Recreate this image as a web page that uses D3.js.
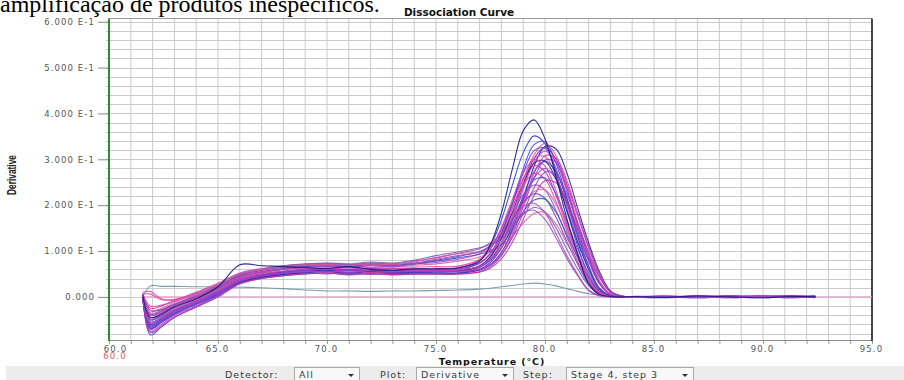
<!DOCTYPE html>
<html>
<head>
<meta charset="utf-8">
<script src="https://cdn.jsdelivr.net/npm/d3@7"></script>
<style>
  html, body { margin: 0; padding: 0; background: #fff; }
  svg { display: block; }
</style>
</head>
<body>
<svg id="chart" width="904" height="380"></svg>
<script>
// Temperature points (°C) at which every well's derivative is sampled
const temperatures = [61.55, 61.9, 62.4, 63, 64, 65, 66, 67, 68, 69, 70, 71, 72, 73, 74,
  75, 76, 77, 77.5, 78, 78.5, 79, 79.5, 80, 80.5, 81, 81.5, 82, 82.5, 83, 83.5, 84,
  85.5, 87, 88.5, 90, 91.2, 92.4];

// Derivative (-dF/dT) per well
const wellA1 = [0.0, 0.024, 0.023, 0.023, 0.022, 0.022, 0.021, 0.020, 0.018, 0.015, 0.013, 0.013, 0.012, 0.013, 0.013,
  0.014, 0.015, 0.017, 0.019, 0.022, 0.025, 0.028, 0.030, 0.028, 0.024, 0.018, 0.012, 0.007, 0.004, 0.002, 0.001, 0.000,
  0.0, 0.001, -0.001, 0.0, 0.001, 0.0];
const wellA2 = [0.0, -0.062, -0.05, -0.032, -0.012, 0.01, 0.036, 0.047, 0.052, 0.056, 0.058, 0.054, 0.057, 0.055, 0.053,
  0.056, 0.057, 0.078, 0.111, 0.168, 0.243, 0.314, 0.351, 0.334, 0.272, 0.188, 0.111, 0.046, 0.010, 0.001, 0.000, -0.001,
  0.001, -0.002, 0.002, 0.0, -0.001, 0.001];
const wellA3 = [-0.003, -0.083, -0.066, -0.045, -0.022, 0.002, 0.03, 0.04, 0.046, 0.05, 0.052, 0.049, 0.051, 0.048, 0.05,
  0.050, 0.051, 0.065, 0.089, 0.136, 0.204, 0.279, 0.332, 0.338, 0.292, 0.216, 0.136, 0.068, 0.019, 0.003, 0.000, 0.001,
  0.0, 0.002, -0.001, 0.001, 0.002, -0.001];
const wellA4 = [0.008, -0.03, -0.028, -0.016, 0.0, 0.018, 0.04, 0.048, 0.055, 0.058, 0.057, 0.06, 0.055, 0.052, 0.054,
  0.052, 0.052, 0.058, 0.070, 0.097, 0.146, 0.214, 0.285, 0.328, 0.323, 0.271, 0.193, 0.118, 0.055, 0.013, 0.002, 0.000,
  -0.002, 0.0, 0.001, -0.001, 0.0, 0.002];
const wellA5 = [0.0, -0.055, -0.046, -0.03, -0.008, 0.014, 0.038, 0.05, 0.056, 0.06, 0.062, 0.059, 0.061, 0.057, 0.058,
  0.058, 0.059, 0.067, 0.083, 0.117, 0.172, 0.242, 0.302, 0.326, 0.301, 0.237, 0.159, 0.091, 0.033, 0.006, 0.001, 0.000,
  0.001, -0.001, 0.0, 0.002, -0.002, 0.001];
const wellA6 = [0.002, -0.07, -0.055, -0.036, -0.014, 0.008, 0.034, 0.046, 0.054, 0.057, 0.055, 0.058, 0.054, 0.056, 0.055,
  0.056, 0.056, 0.064, 0.080, 0.113, 0.167, 0.235, 0.294, 0.318, 0.294, 0.231, 0.155, 0.088, 0.032, 0.006, 0.001, 0.000,
  0.0, 0.001, 0.002, -0.001, 0.001, -0.001];
const wellA7 = [0.006, -0.02, -0.018, -0.01, 0.006, 0.024, 0.046, 0.055, 0.061, 0.064, 0.062, 0.066, 0.061, 0.063, 0.06,
  0.061, 0.061, 0.073, 0.094, 0.134, 0.192, 0.256, 0.302, 0.306, 0.265, 0.196, 0.123, 0.062, 0.017, 0.003, 0.000, 0.001,
  -0.001, 0.001, -0.002, 0.001, 0.0, 0.001];
const wellA8 = [-0.002, -0.075, -0.06, -0.04, -0.02, 0.004, 0.03, 0.042, 0.048, 0.052, 0.05, 0.053, 0.049, 0.051, 0.05,
  0.050, 0.050, 0.055, 0.066, 0.090, 0.134, 0.196, 0.259, 0.298, 0.294, 0.246, 0.176, 0.107, 0.050, 0.012, 0.002, 0.000,
  0.001, 0.0, 0.002, 0.0, -0.001, 0.002];
const wellA9 = [0.0, -0.06, -0.048, -0.03, -0.01, 0.012, 0.036, 0.046, 0.052, 0.054, 0.056, 0.052, 0.055, 0.05, 0.052,
  0.052, 0.052, 0.060, 0.075, 0.106, 0.156, 0.219, 0.274, 0.296, 0.273, 0.215, 0.144, 0.082, 0.030, 0.006, 0.001, 0.000,
  -0.001, 0.002, 0.0, 0.001, 0.001, -0.002];
const wellA10 = [0.003, -0.04, -0.034, -0.02, -0.002, 0.02, 0.044, 0.054, 0.06, 0.063, 0.061, 0.064, 0.06, 0.062, 0.061,
  0.062, 0.064, 0.080, 0.105, 0.148, 0.204, 0.258, 0.286, 0.273, 0.222, 0.153, 0.090, 0.037, 0.008, 0.001, 0.000, 0.000,
  0.002, -0.001, 0.001, 0.0, 0.002, 0.0];
const wellA11 = [0.0, -0.05, -0.042, -0.028, -0.008, 0.014, 0.038, 0.05, 0.055, 0.058, 0.06, 0.057, 0.059, 0.056, 0.058,
  0.058, 0.058, 0.065, 0.079, 0.107, 0.153, 0.210, 0.260, 0.280, 0.258, 0.203, 0.136, 0.078, 0.028, 0.005, 0.001, 0.000,
  0.0, -0.002, 0.001, 0.001, -0.001, 0.0];
const wellA12 = [0.01, 0.012, -0.004, -0.006, 0.008, 0.026, 0.048, 0.058, 0.064, 0.067, 0.065, 0.068, 0.064, 0.066, 0.065,
  0.066, 0.067, 0.082, 0.105, 0.144, 0.195, 0.244, 0.269, 0.257, 0.208, 0.144, 0.085, 0.035, 0.008, 0.001, 0.000, 0.001,
  0.001, 0.0, -0.001, 0.002, 0.0, 0.001];
const wellB1 = [0.0, -0.065, -0.052, -0.034, -0.014, 0.008, 0.033, 0.044, 0.05, 0.054, 0.056, 0.053, 0.056, 0.054, 0.055,
  0.055, 0.056, 0.066, 0.083, 0.116, 0.164, 0.217, 0.255, 0.259, 0.224, 0.165, 0.104, 0.052, 0.014, 0.002, 0.000, 0.000,
  -0.001, 0.001, 0.0, -0.002, 0.001, 0.001];
const wellB2 = [-0.004, -0.078, -0.064, -0.044, -0.022, 0.0, 0.028, 0.04, 0.046, 0.05, 0.052, 0.048, 0.051, 0.049, 0.05,
  0.050, 0.050, 0.054, 0.063, 0.083, 0.119, 0.169, 0.221, 0.253, 0.249, 0.209, 0.149, 0.091, 0.042, 0.010, 0.002, 0.000,
  0.002, 0.0, 0.001, -0.001, 0.002, 0.0];
const wellB3 = [0.004, -0.035, -0.03, -0.016, 0.004, 0.026, 0.05, 0.06, 0.066, 0.068, 0.07, 0.067, 0.071, 0.069, 0.072,
  0.075, 0.082, 0.094, 0.113, 0.137, 0.181, 0.223, 0.244, 0.233, 0.189, 0.131, 0.077, 0.032, 0.007, 0.001, 0.000, 0.000,
  0.0, 0.001, -0.001, 0.001, -0.002, 0.001];
const wellB4 = [0.005, -0.03, -0.025, -0.012, 0.006, 0.026, 0.048, 0.058, 0.064, 0.066, 0.068, 0.065, 0.068, 0.066, 0.069,
  0.072, 0.078, 0.087, 0.099, 0.117, 0.157, 0.200, 0.230, 0.233, 0.202, 0.149, 0.094, 0.047, 0.013, 0.002, 0.000, 0.001,
  -0.001, 0.002, 0.0, 0.001, 0.0, -0.001];
const wellB5 = [0.002, -0.045, -0.036, -0.02, 0.0, 0.022, 0.046, 0.058, 0.066, 0.07, 0.072, 0.07, 0.073, 0.071, 0.074,
  0.080, 0.088, 0.099, 0.111, 0.131, 0.169, 0.206, 0.225, 0.215, 0.174, 0.121, 0.071, 0.029, 0.006, 0.001, 0.000, 0.000,
  0.001, -0.001, 0.002, 0.0, 0.001, 0.0];
const wellB6 = [0.0, -0.05, -0.04, -0.024, -0.004, 0.018, 0.042, 0.054, 0.062, 0.066, 0.068, 0.066, 0.07, 0.068, 0.072,
  0.078, 0.085, 0.093, 0.100, 0.113, 0.147, 0.185, 0.211, 0.213, 0.185, 0.136, 0.086, 0.043, 0.012, 0.002, 0.000, 0.000,
  0.0, 0.002, -0.001, 0.0, 0.001, 0.002];
const wellB7 = [0.004, -0.025, -0.02, -0.008, 0.01, 0.03, 0.052, 0.062, 0.068, 0.071, 0.073, 0.07, 0.074, 0.072, 0.078,
  0.085, 0.095, 0.105, 0.118, 0.137, 0.171, 0.197, 0.204, 0.183, 0.139, 0.090, 0.049, 0.015, 0.003, 0.000, 0.000, 0.001,
  -0.001, 0.0, 0.001, -0.001, 0.0, 0.001];
const wellB8 = [0.002, -0.04, -0.032, -0.018, 0.002, 0.024, 0.048, 0.06, 0.068, 0.072, 0.074, 0.072, 0.076, 0.074, 0.08,
  0.090, 0.098, 0.107, 0.115, 0.127, 0.152, 0.180, 0.195, 0.185, 0.151, 0.104, 0.061, 0.025, 0.005, 0.001, 0.000, 0.000,
  0.001, -0.001, 0.0, 0.002, 0.0, -0.001];
const wellB9 = [0.006, 0.006, -0.006, -0.006, 0.008, 0.028, 0.05, 0.06, 0.066, 0.07, 0.071, 0.069, 0.072, 0.07, 0.076,
  0.086, 0.094, 0.098, 0.102, 0.111, 0.132, 0.161, 0.182, 0.184, 0.159, 0.117, 0.074, 0.037, 0.010, 0.002, 0.000, 0.000,
  0.0, 0.001, 0.001, -0.001, 0.002, 0.0];
const wellB10 = [0.0, -0.055, -0.044, -0.028, -0.008, 0.014, 0.04, 0.052, 0.06, 0.064, 0.066, 0.064, 0.068, 0.066, 0.072,
  0.082, 0.090, 0.098, 0.111, 0.127, 0.158, 0.183, 0.189, 0.169, 0.129, 0.084, 0.046, 0.014, 0.002, 0.000, 0.000, 0.000,
  0.001, 0.0, -0.002, 0.001, 0.0, 0.001];
const wellB11 = [0.0, -0.068, -0.054, -0.036, -0.016, 0.006, 0.032, 0.043, 0.049, 0.053, 0.055, 0.052, 0.056, 0.053, 0.055,
  0.055, 0.056, 0.068, 0.088, 0.127, 0.184, 0.247, 0.292, 0.296, 0.257, 0.189, 0.119, 0.060, 0.017, 0.003, 0.000, 0.000,
  0.0, -0.001, 0.001, 0.0, 0.002, -0.001];
const wellB12 = [0.002, -0.058, -0.047, -0.03, -0.01, 0.012, 0.036, 0.047, 0.053, 0.056, 0.054, 0.057, 0.053, 0.055, 0.055,
  0.055, 0.055, 0.060, 0.071, 0.096, 0.141, 0.204, 0.269, 0.308, 0.303, 0.254, 0.182, 0.111, 0.051, 0.012, 0.002, 0.000,
  0.002, 0.0, 0.001, 0.002, -0.001, 0.001];
const wellC1 = [0.004, -0.048, -0.04, -0.025, -0.006, 0.016, 0.04, 0.05, 0.056, 0.059, 0.061, 0.058, 0.06, 0.057, 0.058,
  0.058, 0.059, 0.067, 0.084, 0.119, 0.176, 0.248, 0.310, 0.335, 0.309, 0.243, 0.163, 0.093, 0.034, 0.006, 0.001, 0.000,
  -0.001, 0.001, 0.0, 0.001, 0.001, 0.0];
const wellC2 = [0.0, -0.07, -0.056, -0.038, -0.016, 0.006, 0.033, 0.046, 0.054, 0.058, 0.06, 0.058, 0.061, 0.058, 0.06,
  0.060, 0.061, 0.074, 0.096, 0.139, 0.202, 0.270, 0.319, 0.324, 0.280, 0.207, 0.130, 0.066, 0.018, 0.003, 0.000, 0.000,
  0.001, 0.0, 0.002, -0.001, 0.0, 0.001];
const wellC3 = [0.003, -0.038, -0.032, -0.018, 0.0, 0.02, 0.044, 0.054, 0.06, 0.062, 0.061, 0.063, 0.059, 0.061, 0.06,
  0.060, 0.062, 0.079, 0.105, 0.151, 0.212, 0.270, 0.299, 0.285, 0.232, 0.160, 0.095, 0.039, 0.008, 0.001, 0.000, 0.000,
  0.0, 0.002, 0.0, -0.001, 0.001, 0.0];
const wellC4 = [-0.002, -0.066, -0.053, -0.035, -0.014, 0.008, 0.034, 0.045, 0.051, 0.054, 0.056, 0.053, 0.057, 0.054, 0.056,
  0.056, 0.056, 0.061, 0.070, 0.091, 0.129, 0.183, 0.238, 0.272, 0.267, 0.224, 0.160, 0.098, 0.045, 0.011, 0.002, 0.000,
  0.001, -0.001, 0.0, 0.002, 0.0, 0.001];
const wellC5 = [0.004, -0.045, -0.038, -0.022, -0.004, 0.022, 0.070, 0.068, 0.066, 0.064, 0.062, 0.066, 0.060, 0.058, 0.061,
  0.061, 0.063, 0.078, 0.114, 0.183, 0.278, 0.362, 0.386, 0.345, 0.263, 0.171, 0.093, 0.029, 0.005, 0.001, 0.000, 0.001,
  -0.001, 0.002, 0.0, -0.002, 0.001, 0.0];

const wellNames = ["A1","A2","A3","A4","A5","A6","A7","A8","A9","A10","A11","A12",
  "B1","B2","B3","B4","B5","B6","B7","B8","B9","B10","B11","B12","C1","C2","C3","C4","C5"];
const wellSeries = [wellA1, wellA2, wellA3, wellA4, wellA5, wellA6, wellA7, wellA8, wellA9, wellA10, wellA11, wellA12,
  wellB1, wellB2, wellB3, wellB4, wellB5, wellB6, wellB7, wellB8, wellB9, wellB10, wellB11, wellB12,
  wellC1, wellC2, wellC3, wellC4, wellC5];

// Trace colours, one per well
const wellColors = ["#6f93a8", "#2f3fd6", "#4048e6", "#23238e", "#7a33cc", "#c535b8", "#e24a9e", "#9a3bd2",
  "#3644cc", "#b838c0", "#8838d2", "#dc4aa8", "#4a56dc", "#c62f9e", "#a447cc", "#e35aa6", "#7242c4",
  "#4050c4", "#c045b6", "#6c62b4", "#d9589c", "#9450c8", "#2c2c8c", "#cd3cb0", "#e04c9a", "#6e3ada",
  "#d040b2", "#8e44c6", "#1b1b80"];

const yTickValues = [0, 0.1, 0.2, 0.3, 0.4, 0.5, 0.6];
const xTickValues = [60, 65, 70, 75, 80, 85, 90, 95];

const svg = d3.select("#chart");
const FONT = "'DejaVu Sans', Verdana, sans-serif";

const x = d3.scaleLinear().domain([60, 95]).range([109, 872]);
const y = d3.scaleLinear().domain([-0.094, 0.607]).range([340, 18.5]);
const yTop = y(0.607), yBottom = y(-0.094);

// Caption fragment above the chart
svg.append("text")
  .attr("x", 0).attr("y", 12)
  .attr("font-family", "'Liberation Serif', 'Times New Roman', serif")
  .attr("font-size", 24)
  .attr("fill", "#000")
  .text("amplificação de produtos inespecíficos.");

// Title
svg.append("text")
  .attr("x", 459).attr("y", 16)
  .attr("text-anchor", "middle")
  .attr("font-family", FONT)
  .attr("font-weight", "bold")
  .attr("font-size", 10.5)
  .attr("fill", "#111")
  .text("Dissociation Curve");

// Grid
const grid = svg.append("g");
grid.selectAll("line.gv")
  .data(d3.range(61, 95))
  .join("line")
  .attr("x1", d => x(d)).attr("x2", d => x(d))
  .attr("y1", yTop).attr("y2", yBottom)
  .attr("stroke", "#c9c9c9").attr("stroke-width", 1);
grid.selectAll("line.gh")
  .data(d3.range(-4, 31).map(i => i * 0.02))
  .join("line")
  .attr("x1", x(60) - 3).attr("x2", x(95))
  .attr("y1", d => Math.round(y(d)) + 0.5).attr("y2", d => Math.round(y(d)) + 0.5)
  .attr("stroke", "#c9c9c9").attr("stroke-width", 1);

// Frame
svg.append("line").attr("x1", x(60)).attr("x2", x(95)).attr("y1", yTop).attr("y2", yTop)
  .attr("stroke", "#9a9a9a");
svg.append("line").attr("x1", x(60)).attr("x2", x(95)).attr("y1", yBottom + 0.5).attr("y2", yBottom + 0.5)
  .attr("stroke", "#8a8a8a");
svg.append("line").attr("x1", x(95)).attr("x2", x(95)).attr("y1", yTop).attr("y2", yBottom + 1)
  .attr("stroke", "#1a1a1a").attr("stroke-width", 1.6);

// Zero reference line across the sampled range
svg.append("line")
  .attr("x1", x(temperatures[0])).attr("x2", x(95))
  .attr("y1", y(0)).attr("y2", y(0))
  .attr("stroke", "#e2a3cf").attr("stroke-width", 1.2);

// Traces
svg.append("defs").append("clipPath").attr("id", "plot-clip")
  .append("rect").attr("x", x(60)).attr("y", yTop).attr("width", x(95) - x(60)).attr("height", yBottom - yTop);

const line = d3.line()
  .x((d, i) => x(temperatures[i]))
  .y(d => y(d))
  .curve(d3.curveCatmullRom.alpha(0.5));

svg.append("g").attr("clip-path", "url(#plot-clip)")
  .selectAll("path")
  .data(wellSeries)
  .join("path")
  .attr("d", line)
  .attr("fill", "none")
  .attr("stroke", (d, i) => wellColors[i])
  .attr("stroke-width", 1.1)
  .attr("stroke-opacity", 0.9)
  .attr("stroke-linejoin", "round")
  .append("title").text((d, i) => wellNames[i]);

// Y axis
const yAxis = svg.append("g")
  .attr("transform", `translate(${x(60)},0)`)
  .call(d3.axisLeft(y)
    .tickValues(yTickValues)
    .tickSize(11)
    .tickPadding(3)
    .tickFormat(d => d === 0 ? "0.000" : (d * 10).toFixed(3) + " E-1"));
yAxis.select(".domain").remove();
yAxis.selectAll(".tick line").attr("stroke", "#888");
yAxis.selectAll(".tick text")
  .attr("font-family", FONT).attr("font-size", 8.5)
  .attr("letter-spacing", 1.1).attr("fill", "#555");

// Green left axis line
svg.append("line")
  .attr("x1", x(60)).attr("x2", x(60)).attr("y1", yTop).attr("y2", yBottom + 1)
  .attr("stroke", "#2e8b2e").attr("stroke-width", 2);

// X axis: small ticks every degree, labels every 5
const xMinor = svg.append("g")
  .attr("transform", `translate(0,${yBottom + 1})`)
  .call(d3.axisBottom(x).tickValues(d3.range(60, 96)).tickSize(3).tickFormat(""));
xMinor.select(".domain").remove();
xMinor.selectAll(".tick line").attr("stroke", "#999");

const xAxis = svg.append("g")
  .attr("transform", `translate(0,${yBottom + 1})`)
  .call(d3.axisBottom(x).tickValues(xTickValues).tickSize(0).tickPadding(5)
    .tickFormat(d => d.toFixed(1)));
xAxis.select(".domain").remove();
xAxis.selectAll(".tick text")
  .attr("font-family", FONT).attr("font-size", 8.5)
  .attr("letter-spacing", 1.1).attr("fill", "#555")
  .attr("dx", d => d === 60 ? 6 : -1);

// Second start label in red beneath the first
svg.append("text")
  .attr("x", x(60) + 6).attr("y", 359)
  .attr("text-anchor", "middle")
  .attr("font-family", FONT).attr("font-size", 8.5)
  .attr("letter-spacing", 1.1).attr("fill", "#e05a5a")
  .text((60).toFixed(1));

// Axis titles
svg.append("text")
  .attr("x", 492).attr("y", 364.5)
  .attr("text-anchor", "middle")
  .attr("font-family", FONT).attr("font-weight", "bold")
  .attr("font-size", 9.5).attr("letter-spacing", 0.9).attr("fill", "#111")
  .text("Temperature (°C)");

svg.append("text")
  .attr("transform", "translate(16,175) rotate(-90)")
  .attr("text-anchor", "middle")
  .attr("font-family", "'Liberation Sans Narrow', 'Arial Narrow', sans-serif")
  .attr("font-weight", "bold")
  .attr("font-size", 12)
  .attr("textLength", 40).attr("lengthAdjust", "spacingAndGlyphs")
  .attr("fill", "#222")
  .text("Derivative");

// Control strip along the bottom
const bar = svg.append("g");
bar.append("rect").attr("x", 6).attr("y", 366).attr("width", 898).attr("height", 14).attr("fill", "#ececec");

const controls = [
  { label: "Detector:", lx: 225, bx: 294, bw: 65, value: "All" },
  { label: "Plot:", lx: 380, bx: 416, bw: 97, value: "Derivative" },
  { label: "Step:", lx: 523, bx: 566, bw: 127, value: "Stage 4, step 3" }
];
controls.forEach(c => {
  bar.append("text").attr("x", c.lx).attr("y", 377.5)
    .attr("font-family", FONT).attr("font-size", 9.5).attr("letter-spacing", 1)
    .attr("fill", "#3a3a3a").text(c.label);
  bar.append("rect").attr("x", c.bx + 0.5).attr("y", 367.5).attr("width", c.bw).attr("height", 14)
    .attr("fill", "#f8f8f8").attr("stroke", "#a8a8a8");
  bar.append("text").attr("x", c.bx + 5).attr("y", 377.5)
    .attr("font-family", FONT).attr("font-size", 9.5).attr("letter-spacing", 1)
    .attr("fill", "#3a3a3a").text(c.value);
  const ax = c.bx + c.bw - 11;
  bar.append("path").attr("d", `M${ax},374 L${ax + 6},374 L${ax + 3},377 Z`).attr("fill", "#333");
});
</script>
</body>
</html>
